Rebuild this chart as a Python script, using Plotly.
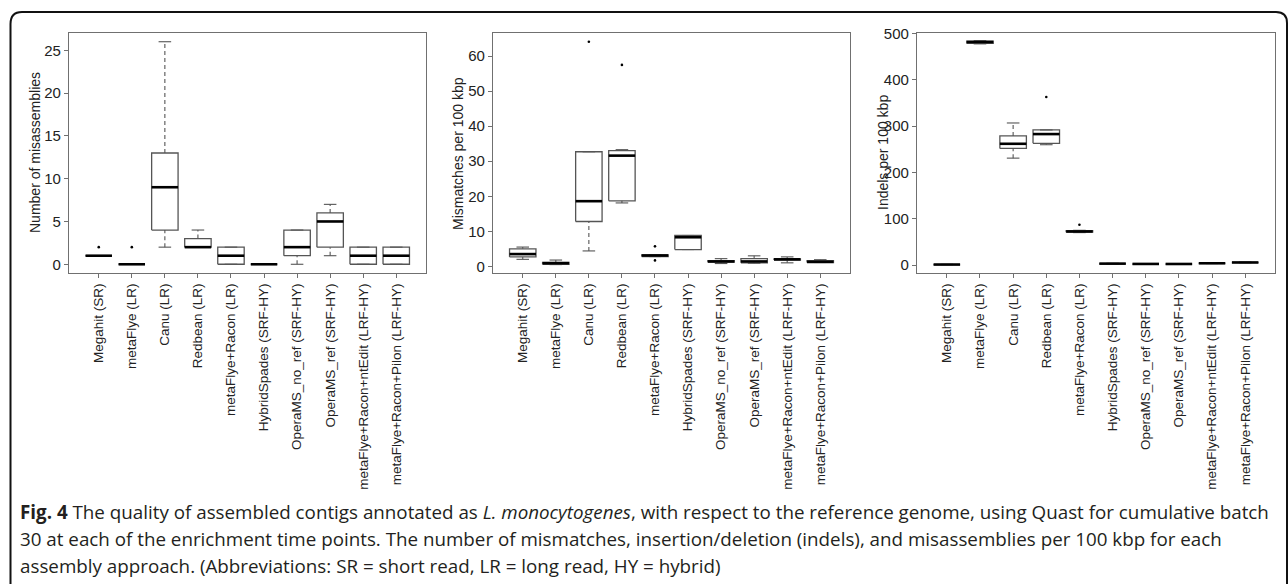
import plotly.graph_objects as go

W, H = 1288, 584

categories = ["Megahit (SR)", "metaFlye (LR)", "Canu (LR)", "Redbean (LR)",
              "metaFlye+Racon (LR)", "HybridSpades (SRF-HY)", "OperaMS_no_ref (SRF-HY)",
              "OperaMS_ref (SRF-HY)", "metaFlye+Racon+ntEdit (LRF-HY)",
              "metaFlye+Racon+Pilon (LRF-HY)"]

# Panel 1: number of misassemblies
mis_low = [1, 0, 2, 2, 0, 0, 0, 1, 0, 0]
mis_q1 = [1, 0, 4, 2, 0, 0, 1, 2, 0, 0]
mis_med = [1, 0, 9, 2, 1, 0, 2, 5, 1, 1]
mis_q3 = [1, 0, 13, 3, 2, 0, 4, 6, 2, 2]
mis_high = [1, 0, 26, 4, 2, 0, 4, 7, 2, 2]
mis_out = [[2], [2], [], [], [], [], [], [], [], []]

# Panel 2: mismatches per 100 kbp
mm_low = [2.0, 0.5, 4.4, 18.1, 2.8, 4.8, 0.8, 0.9, 1.0, 1.1]
mm_q1 = [2.7, 0.6, 12.8, 18.7, 2.8, 4.8, 1.2, 1.0, 1.8, 1.1]
mm_med = [3.5, 0.9, 18.6, 31.6, 3.1, 8.3, 1.4, 1.4, 2.0, 1.3]
mm_q3 = [5.0, 1.1, 32.7, 33.0, 3.3, 8.8, 1.6, 2.2, 2.1, 1.6]
mm_high = [5.5, 1.8, 32.7, 33.3, 3.3, 8.8, 2.2, 3.0, 2.7, 1.9]
mm_out = [[], [], [64.1], [57.5], [5.7, 1.7], [], [], [], [], []]

# Panel 3: indels per 100 kbp
ind_low = [0.8, 478, 231, 260, 70, 2.5, 1.8, 1.8, 3.2, 4.8]
ind_q1 = [0.9, 479, 252, 263, 71, 2.7, 2.0, 2.0, 3.4, 5.0]
ind_med = [1.0, 482, 262, 283, 72.5, 3.0, 2.3, 2.2, 3.7, 5.5]
ind_q3 = [1.2, 484, 279, 292, 74, 3.3, 2.6, 2.5, 4.0, 6.0]
ind_high = [1.4, 485, 307, 292, 75, 3.6, 2.8, 2.7, 4.3, 6.3]
ind_out = [[], [], [], [363], [87], [], [], [], [], []]

y_titles = ["Number of misassemblies", "Mismatches per 100 kbp", "Indels per 100 kbp"]
y_ranges = [[-1.02, 27.02], [-1.9, 66.6], [-17.3, 501.5]]
y_dticks = [5, 10, 100]

caption_lines = [
    "<b>Fig. 4</b> The quality of assembled contigs annotated as <i>L. monocytogenes</i>, with respect to the reference genome, using Quast for cumulative batch",
    "30 at each of the enrichment time points. The number of mismatches, insertion/deletion (indels), and misassemblies per 100 kbp for each",
    "assembly approach. (Abbreviations: SR = short read, LR = long read, HY = hybrid)",
]

panels = [
    (mis_low, mis_q1, mis_med, mis_q3, mis_high, mis_out),
    (mm_low, mm_q1, mm_med, mm_q3, mm_high, mm_out),
    (ind_low, ind_q1, ind_med, ind_q3, ind_high, ind_out),
]

px_x = [(69, 426), (493, 850), (917, 1275)]
px_y = (33, 273)
title_x = [35, 458, 883]

FONT = "Liberation Sans, Arial, sans-serif"
BOXC = "#555555"
HW = 0.4   # box half width
CW = 0.19  # cap half width

fig = go.Figure()

for p, (lo, q1, med, q3, hi, outs) in enumerate(panels):
    xa = "x" if p == 0 else f"x{p+1}"
    ya = "y" if p == 0 else f"y{p+1}"
    bx, by = [], []
    wx, wy = [], []
    cx, cy = [], []
    mx, my = [], []
    ox, oy = [], []
    for i in range(len(categories)):
        bx += [i - HW, i + HW, i + HW, i - HW, i - HW, None]
        by += [q1[i], q1[i], q3[i], q3[i], q1[i], None]
        if lo[i] < q1[i]:
            wx += [i, i, None]
            wy += [lo[i], q1[i], None]
        if hi[i] > q3[i]:
            wx += [i, i, None]
            wy += [q3[i], hi[i], None]
        cx += [i - CW, i + CW, None, i - CW, i + CW, None]
        cy += [lo[i], lo[i], None, hi[i], hi[i], None]
        mx += [i - HW, i + HW, None]
        my += [med[i], med[i], None]
        for o in outs[i]:
            ox.append(i)
            oy.append(o)
    common = dict(xaxis=xa, yaxis=ya, showlegend=False, hoverinfo="skip")
    fig.add_trace(go.Scatter(x=wx, y=wy, mode="lines",
                             line=dict(color=BOXC, width=1.1, dash="4px,3px"), **common))
    fig.add_trace(go.Scatter(x=cx, y=cy, mode="lines",
                             line=dict(color=BOXC, width=1.1), **common))
    fig.add_trace(go.Scatter(x=bx, y=by, mode="lines",
                             line=dict(color=BOXC, width=1.3), **common))
    fig.add_trace(go.Scatter(x=mx, y=my, mode="lines",
                             line=dict(color="black", width=2.6), **common))
    fig.add_trace(go.Scatter(x=ox, y=oy, mode="markers",
                             marker=dict(color="black", size=2.6), **common))

    suffix = "" if p == 0 else str(p + 1)
    x0, x1 = px_x[p]
    fig.update_layout(**{
        f"xaxis{suffix}": dict(
            domain=[x0 / W, x1 / W], range=[-0.9, 9.9], anchor=ya,
            tickmode="array", tickvals=list(range(len(categories))), ticktext=categories,
            tickangle=-90, tickfont=dict(family=FONT, size=13.5, color="#222"),
            showgrid=False, zeroline=False, showline=True, mirror=True,
            linecolor="#707070", linewidth=1.2, ticks="outside", ticklen=4,
            tickcolor="#707070", tickwidth=1, fixedrange=True, automargin=False),
        f"yaxis{suffix}": dict(
            domain=[1 - px_y[1] / H, 1 - px_y[0] / H], range=y_ranges[p], anchor=xa,
            dtick=y_dticks[p], tick0=0,
            tickfont=dict(family=FONT, size=15, color="#222"),
            showgrid=False, zeroline=False, showline=True, mirror=True,
            linecolor="#707070", linewidth=1.2, ticks="outside", ticklen=4,
            tickcolor="#707070", tickwidth=1, fixedrange=True, automargin=False),
    })
    fig.add_annotation(text=y_titles[p], xref="paper", yref="paper",
                       x=title_x[p] / W, y=1 - 153 / H, textangle=-90,
                       showarrow=False, xanchor="center", yanchor="middle",
                       font=dict(family=FONT, size=14, color="#222"))


def fx(v):
    return v / W


def fy(v):
    return 1 - v / H


frame = (f"M {fx(10.5)},{fy(600)} L {fx(10.5)},{fy(24)} "
         f"Q {fx(10.5)},{fy(12)} {fx(22)},{fy(12)} "
         f"L {fx(1276)},{fy(12)} Q {fx(1287)},{fy(12)} {fx(1287)},{fy(23)} "
         f"L {fx(1287)},{fy(600)}")
fig.add_shape(type="path", path=frame, xref="paper", yref="paper",
              line=dict(color="#111", width=2))

cap_y = [512, 539, 566]
for line, yy in zip(caption_lines, cap_y):
    fig.add_annotation(text=line, xref="paper", yref="paper", x=fx(18), y=fy(yy),
                       xanchor="left", yanchor="middle", showarrow=False,
                       font=dict(family="Open Sans", size=18.8, color="#231f20"))

fig.update_layout(width=W, height=H, autosize=False,
                  margin=dict(l=0, r=0, t=0, b=0, pad=0, autoexpand=False),
                  paper_bgcolor="white", plot_bgcolor="white")

post = ("document.body.style.margin='0';document.body.style.overflow='hidden';"
        "var d=document.getElementById('{plot_id}');"
        "d.style.position='absolute';d.style.left='0px';d.style.top='0px';")
fig.write_html("out.html", post_script=post, config={"displayModeBar": False})
